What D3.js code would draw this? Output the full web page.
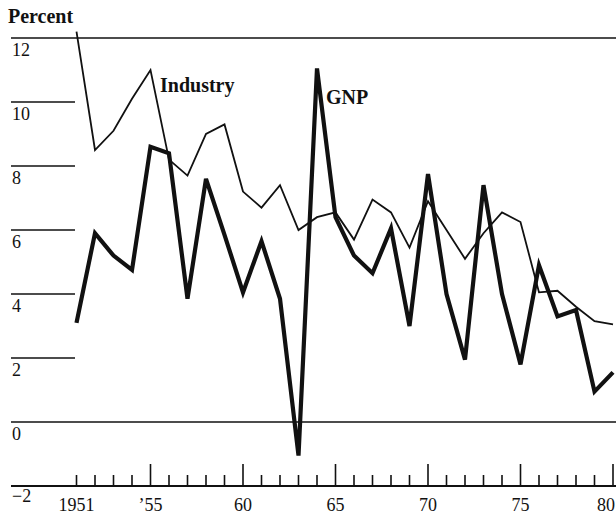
<!DOCTYPE html>
<html>
<head>
<meta charset="utf-8">
<script src="https://cdn.jsdelivr.net/npm/d3@7"></script>
<style>
body{margin:0;background:#fff;}
text{font-family:"Liberation Serif","Times New Roman",serif;fill:#111;}
</style>
</head>
<body>
<svg id="chart" width="616" height="516"></svg>
<script>
// data
var years=[1951,1952,1953,1954,1955,1956,1957,1958,1959,1960,1961,1962,1963,1964,1965,
	1966,1967,1968,1969,1970,1971,1972,1973,1974,1975,1976,1977,1978,1979,1980];
var industry=[12.2,8.5,9.1,10.1,11.0,8.2,7.7,9.0,9.3,7.2,6.7,7.4,6.0,6.4,6.55,
	5.7,6.95,6.55,5.45,6.9,6.0,5.1,5.9,6.55,6.25,4.05,4.1,3.6,3.15,3.05];
var gnp=[3.1,5.9,5.2,4.75,8.6,8.4,3.85,7.6,5.85,4.05,5.65,3.85,-1.05,11.05,6.4,
	5.2,4.65,6.05,3.0,7.75,4.0,1.95,7.4,4.0,1.8,4.9,3.3,3.5,0.95,1.55];
var yTicks=[12,10,8,6,4,2,0,-2];
var yTickLabels=["12","10","8","6","4","2","0","\u22122"];
var xMajorYears=[1955,1960,1965,1970,1975,1980];
var xTickYears=[1951,1955,1960,1965,1970,1975,1980];
var xTickLabels=["1951","\u201955","60","65","70","75","80"];

var LEFT=11;
var RIGHT=616;
var svg=d3.select("#chart");

var x=d3.scaleLinear().domain([1951,1980]).range([76.5,613]);
var y=d3.scaleLinear().domain([-2,12]).range([486,38]);

//grid lines: full ones at 12 and 0, short stubs for the rest
yTicks.forEach(function(v,i){
	var full=(v==12||v==0||v==-2);
	svg.append("line")
		.style("stroke","#111")
		.style("stroke-width",v==-2?"2px":"1.6px")
		.attr("x1",LEFT)
		.attr("x2",full?RIGHT:75)
		.attr("y1",y(v))
		.attr("y2",y(v));
	svg.append("text")
		.text(yTickLabels[i])
		.style("font-size","18px")
		.attr("x",LEFT+1)
		.attr("y",y(v)+(v==-2?16:18));
});

//year ticks on the -2 line
years.forEach(function(yr){
	var major=xMajorYears.indexOf(yr)>=0;
	svg.append("line")
		.style("stroke","#111")
		.style("stroke-width","1.6px")
		.attr("x1",x(yr))
		.attr("x2",x(yr))
		.attr("y1",y(-2))
		.attr("y2",y(-2)-(major?22:11));
});
xTickYears.forEach(function(yr,i){
	svg.append("text")
		.text(xTickLabels[i])
		.style("font-size","18px")
		.attr("text-anchor",yr==1980?"end":"middle")
		.attr("x",yr==1980?615:x(yr))
		.attr("y",511);
});

var line=d3.line()
	.x(function(d,i){return x(years[i]);})
	.y(function(d){return y(d);});

svg.append("path")
	.datum(industry)
	.attr("d",line)
	.attr("fill","none")
	.attr("stroke","#111")
	.attr("stroke-width",1.8)
	.attr("stroke-linejoin","miter");

svg.append("path")
	.datum(gnp)
	.attr("d",line)
	.attr("fill","none")
	.attr("stroke","#111")
	.attr("stroke-width",4.2)
	.attr("stroke-linejoin","miter");

//labels
svg.append("text")
	.text("Percent")
	.style("font-size","20px")
	.style("font-weight","bold")
	.attr("x",8)
	.attr("y",23);
svg.append("text")
	.text("Industry")
	.style("font-size","20px")
	.style("font-weight","bold")
	.attr("x",160)
	.attr("y",92);
svg.append("text")
	.text("GNP")
	.style("font-size","20px")
	.style("font-weight","bold")
	.attr("x",326)
	.attr("y",104);
</script>
</body>
</html>
